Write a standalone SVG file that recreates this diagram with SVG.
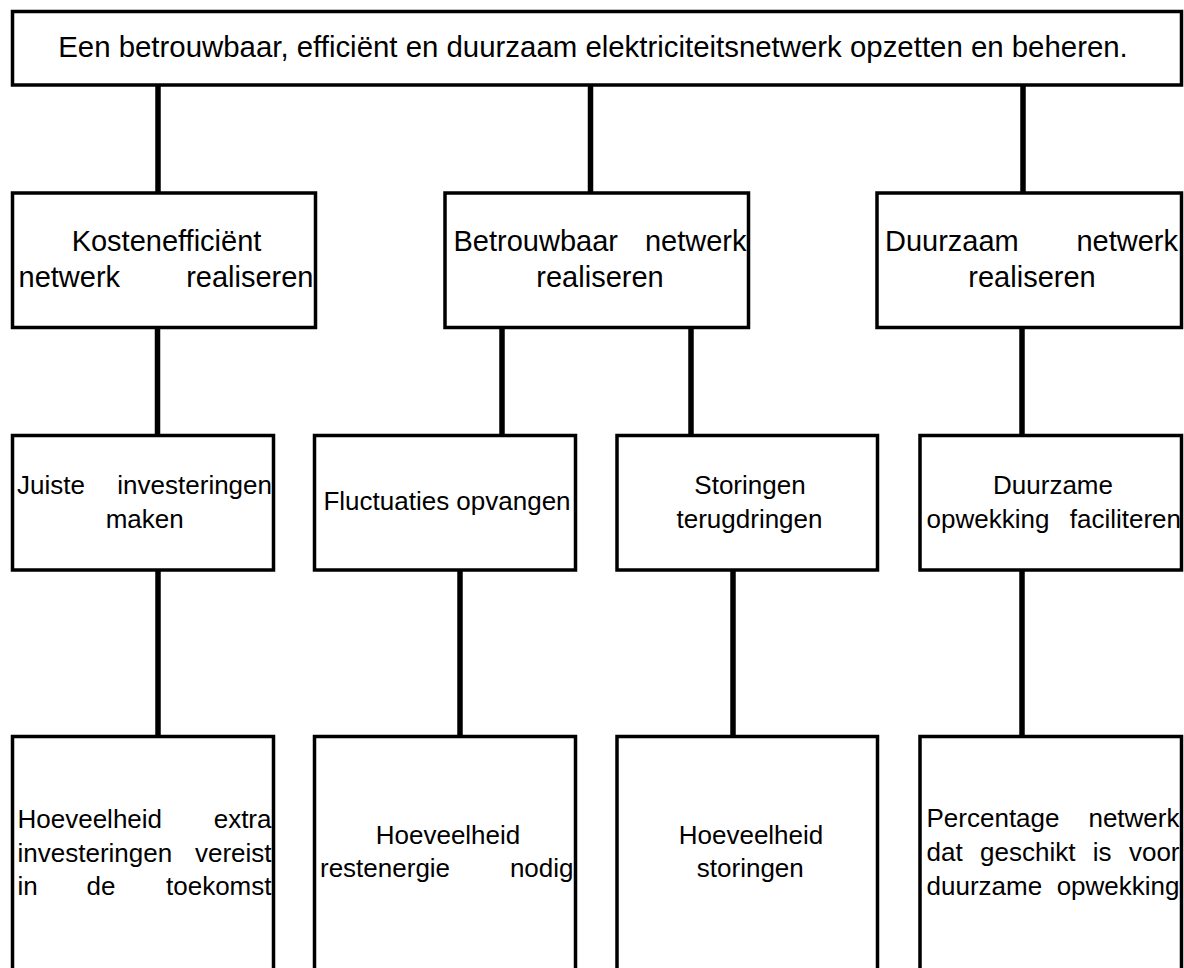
<svg xmlns="http://www.w3.org/2000/svg" width="1184" height="968" viewBox="0 0 1184 968">
<style>
.box{fill:#fff;stroke:#000;stroke-width:3.5}
.conn{stroke:#000;stroke-width:5.5;fill:none}
text{font-family:"Liberation Sans",Arial,sans-serif;fill:#000}
.t1{font-size:29.4px}
.t2{font-size:29px}
.t3{font-size:26px}
.m{text-anchor:middle}
.e{text-anchor:end}
</style>
<rect width="1184" height="968" fill="#fff"/>
<g id="connectors">
<line class="conn" x1="158" y1="85" x2="158" y2="193"/>
<line class="conn" x1="590.5" y1="85" x2="590.5" y2="193"/>
<line class="conn" x1="1023" y1="85" x2="1023" y2="193"/>
<line class="conn" x1="157.5" y1="327.5" x2="157.5" y2="435.5"/>
<line class="conn" x1="502" y1="327.5" x2="502" y2="435.5"/>
<line class="conn" x1="691" y1="327.5" x2="691" y2="435.5"/>
<line class="conn" x1="1022" y1="327.5" x2="1022" y2="435.5"/>
<line class="conn" x1="158" y1="570" x2="158" y2="736.5"/>
<line class="conn" x1="460" y1="570" x2="460" y2="736.5"/>
<line class="conn" x1="733" y1="570" x2="733" y2="736.5"/>
<line class="conn" x1="1022" y1="570" x2="1022" y2="736.5"/>
</g>
<g id="root">
<rect class="box" x="12.5" y="11.5" width="1169" height="73.5"/>
<text class="t1 m" x="593" y="57">Een betrouwbaar, efficiënt en duurzaam elektriciteitsnetwerk opzetten en beheren.</text>
</g>
<g id="kostenefficient">
<rect class="box" x="12.5" y="193" width="303" height="134.5"/>
<text class="t2 m" x="166.5" y="251">Kostenefficiënt</text>
<text class="t2" x="18.5" y="287">netwerk</text>
<text class="t2 e" x="313.5" y="287">realiseren</text>
</g>
<g id="betrouwbaar">
<rect class="box" x="445" y="193" width="303.5" height="134.5"/>
<text class="t2" x="453.5" y="251">Betrouwbaar</text>
<text class="t2 e" x="746.5" y="251">netwerk</text>
<text class="t2 m" x="600" y="287">realiseren</text>
</g>
<g id="duurzaam">
<rect class="box" x="877" y="193" width="304.5" height="134.5"/>
<text class="t2" x="885" y="251">Duurzaam</text>
<text class="t2 e" x="1178" y="251">netwerk</text>
<text class="t2 m" x="1032" y="287">realiseren</text>
</g>
<g id="investeringen">
<rect class="box" x="12.5" y="435.5" width="261" height="134.5"/>
<text class="t3" x="17" y="493.5">Juiste</text>
<text class="t3 e" x="272" y="493.5">investeringen</text>
<text class="t3 m" x="144.7" y="528">maken</text>
</g>
<g id="fluctuaties">
<rect class="box" x="314.5" y="435.5" width="261" height="134.5"/>
<text class="t3 m" x="447" y="510">Fluctuaties opvangen</text>
</g>
<g id="storingen">
<rect class="box" x="617" y="435.5" width="260.5" height="134.5"/>
<text class="t3 m" x="750" y="493.5">Storingen</text>
<text class="t3 m" x="749.5" y="527.5">terugdringen</text>
</g>
<g id="opwekking">
<rect class="box" x="920" y="435.5" width="261.5" height="134.5"/>
<text class="t3 m" x="1053" y="493.5">Duurzame</text>
<text class="t3" x="926.5" y="527.5">opwekking</text>
<text class="t3 e" x="1181" y="527.5">faciliteren</text>
</g>
<g id="kpi-investeringen">
<rect class="box" x="12.5" y="736.5" width="261" height="300"/>
<text class="t3" x="17.5" y="827.5">Hoeveelheid</text>
<text class="t3 e" x="271.5" y="827.5">extra</text>
<text class="t3" x="17.5" y="861.5">investeringen</text>
<text class="t3 e" x="271.5" y="861.5">vereist</text>
<text class="t3" x="17.5" y="895">in</text>
<text class="t3" x="86.5" y="895">de</text>
<text class="t3 e" x="271.5" y="895">toekomst</text>
</g>
<g id="kpi-restenergie">
<rect class="box" x="314.5" y="736.5" width="261" height="300"/>
<text class="t3 m" x="448" y="843.5">Hoeveelheid</text>
<text class="t3" x="320" y="877">restenergie</text>
<text class="t3 e" x="573.5" y="877">nodig</text>
</g>
<g id="kpi-storingen">
<rect class="box" x="617" y="736.5" width="260.5" height="300"/>
<text class="t3 m" x="751" y="844">Hoeveelheid</text>
<text class="t3 m" x="750.3" y="877">storingen</text>
</g>
<g id="kpi-percentage">
<rect class="box" x="920" y="736.5" width="261.5" height="300"/>
<text class="t3" x="926.5" y="827">Percentage</text>
<text class="t3 e" x="1179.5" y="827">netwerk</text>
<text class="t3" x="926.5" y="860.5">dat</text>
<text class="t3" x="980" y="860.5">geschikt</text>
<text class="t3" x="1092.8" y="860.5">is</text>
<text class="t3 e" x="1179.5" y="860.5">voor</text>
<text class="t3" x="926.5" y="894.5">duurzame</text>
<text class="t3 e" x="1179.5" y="894.5">opwekking</text>
</g>
</svg>
